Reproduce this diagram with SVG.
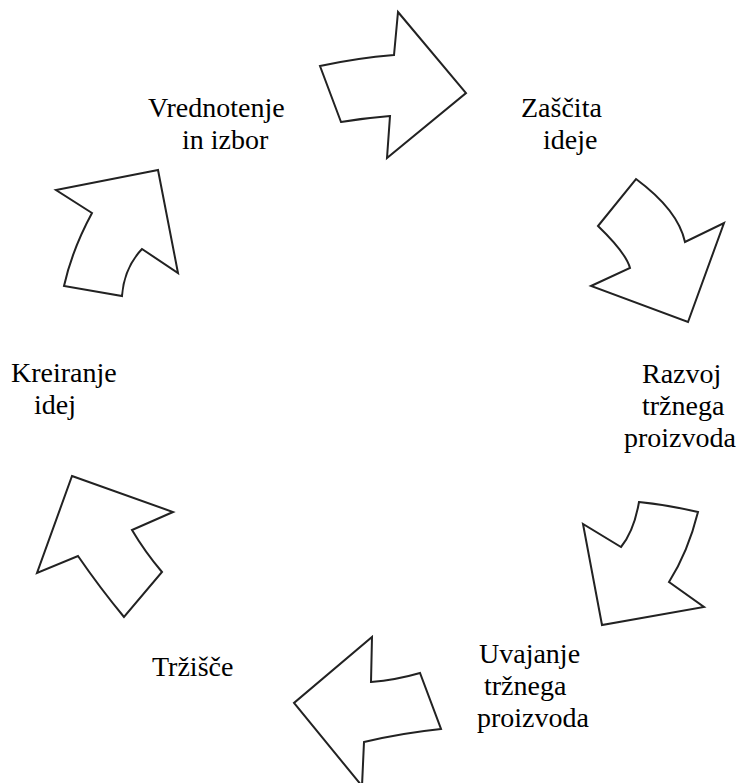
<svg xmlns="http://www.w3.org/2000/svg" width="740" height="783" viewBox="0 0 740 783">
<style>
.arrow{fill:#ffffff;stroke:#222222;stroke-width:2;stroke-linejoin:miter}
.lbl{font-family:"Liberation Serif","Times New Roman",serif;font-size:28px;fill:#000000}
</style>
<rect x="0" y="0" width="740" height="783" fill="#ffffff"/>
<g id="connectors">
<path id="arrow1" class="arrow" d="M398,12 L466,93 L387,158 L390,116 Q365,118 341,122 L320,66 Q357,58 394,55 Z"/>
<path id="arrow2" class="arrow" d="M636,179 Q678,210 685,242 L724,223 L688,322 L591,286 L630,268 Q626,253 598,226 Z"/>
<path id="arrow3" class="arrow" d="M639,502 Q668,505 698,512 Q688,552 669,582 L704,607 L602,625 L583,524 L621,547 Q634,531 639,502 Z"/>
<path id="arrow4" class="arrow" d="M372,637 L371,682 Q396,680 420,673 L441,729 Q402,733 364,742 L362,786 L294,703 Z"/>
<path id="arrow5" class="arrow" d="M72,476 L173,512 L132,530 Q145,552 162,572 L124,617 Q100,588 78,556 L37,573 Z"/>
<path id="arrow6" class="arrow" d="M158,170 L56,190 L92,213 Q72,250 64,286 L122,296 Q124,268 142,249 L178,273 Z"/>
</g>
<g id="node-vrednotenje">
<text class="lbl" x="148" y="117">Vrednotenje</text>
<text class="lbl" x="182" y="149">in izbor</text>
</g>
<g id="node-zascita">
<text class="lbl" x="521" y="117">Zaščita</text>
<text class="lbl" x="543" y="149">ideje</text>
</g>
<g id="node-razvoj">
<text class="lbl" x="642" y="383">Razvoj</text>
<text class="lbl" x="642" y="415">tržnega</text>
<text class="lbl" x="624" y="447">proizvoda</text>
</g>
<g id="node-uvajanje">
<text class="lbl" x="479" y="663">Uvajanje</text>
<text class="lbl" x="484" y="695">tržnega</text>
<text class="lbl" x="477" y="727">proizvoda</text>
</g>
<g id="node-trzisce">
<text class="lbl" x="152" y="676">Tržišče</text>
</g>
<g id="node-kreiranje">
<text class="lbl" x="11" y="382">Kreiranje</text>
<text class="lbl" x="34" y="414">idej</text>
</g>
</svg>
